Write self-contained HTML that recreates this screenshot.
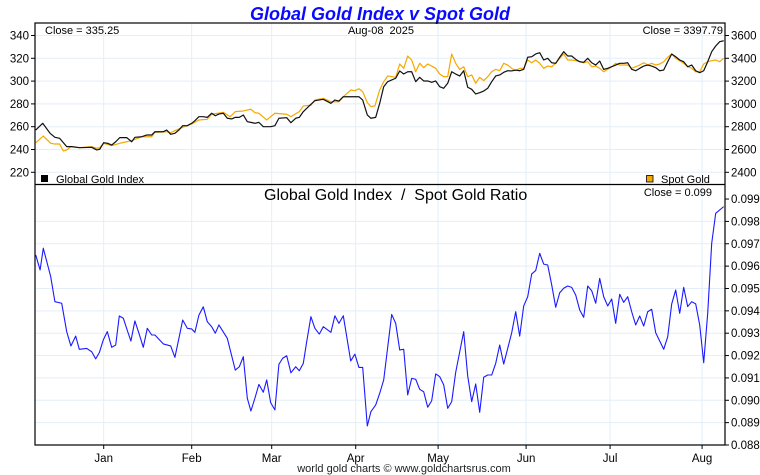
<!DOCTYPE html>
<html><head><meta charset="utf-8"><title>Global Gold Index v Spot Gold</title>
<style>
html,body{margin:0;padding:0;background:#fff;}
svg{display:block;font-family:"Liberation Sans",Arial,sans-serif;}
</style></head>
<body>
<svg id="chart" width="760" height="475" viewBox="0 0 760 475" xmlns="http://www.w3.org/2000/svg">
<rect x="0" y="0" width="760" height="475" fill="#fff"/>
<text x="380" y="20" text-anchor="middle" font-size="18" font-weight="bold" font-style="italic" fill="#0a0aff">Global Gold Index v Spot Gold</text>
<g id="grid"></g>
<g id="series"></g>
<g id="axes"></g>
<rect x="35" y="23" width="690" height="422" fill="none" stroke="#000" stroke-width="1.2"/>
<line x1="35" y1="184.5" x2="725" y2="184.5" stroke="#000" stroke-width="1.2"/>
<text x="45" y="34" font-size="11" fill="#000">Close = 335.25</text>
<text x="381" y="34" font-size="11" text-anchor="middle" fill="#000">Aug-08&#160;&#160;2025</text>
<text x="723" y="34" font-size="11" text-anchor="end" fill="#000">Close = 3397.79</text>
<rect x="41" y="175" width="7" height="7" fill="#000"/>
<text x="56" y="183" font-size="11" fill="#000">Global Gold Index</text>
<rect x="646.5" y="175.5" width="6.5" height="6.5" fill="#f5a800" stroke="#000" stroke-width="0.8"/>
<text x="661" y="183" font-size="11" fill="#000">Spot Gold</text>
<text x="264" y="200" font-size="16" fill="#000">Global Gold Index&#160;&#160;/&#160;&#160;Spot Gold Ratio</text>
<text x="712" y="196" font-size="11" text-anchor="end" fill="#000">Close = 0.099</text>
<text x="404" y="472" font-size="11" text-anchor="middle" fill="#222">world gold charts © www.goldchartsrus.com</text>
</svg>
<script>
// ---- data ----
const monthLabels = ["Jan","Feb","Mar","Apr","May","Jun","Jul","Aug"];
const monthDays = [17,39,59,80,100.6,122.6,143.6,166.6];
const leftTicks = [220,240,260,280,300,320,340];
const rightTicks = [2400,2600,2800,3000,3200,3400,3600];
const ratioTicks = [0.088,0.089,0.090,0.091,0.092,0.093,0.094,0.095,0.096,0.097,0.098,0.099];

const ggiDaysA = [0,1.75,3.6,4.8,6,7.75,9,11,14,15.25,16,17,18,19,20,21,22.75,24,24.8,26.5,27.75,29,29.8,31.9,32.75,33.75,34.8,35.8,36.75,37.9,39,39.8,40.8,41.9,42.9,44,44.9,45.8,46.9,47.9,49,49.9,50.9,51.9,52.9,53.8,54.8,55.8,56.9,58.75,59.8,60.8,62.75,63.8,65,65.9,66.9,68.8,69.8,71.9,73.8,74.8,75.8,76.9,80.8,81.75,82.9,83.8,85,86,87,88];
const ggiValsA = [257.1,263,254.2,250.7,249.8,242.5,242.5,241.6,241.9,239.6,240.2,246,245.4,243.9,246.8,250.4,250.4,246.8,250.7,251.2,252.7,252.7,255.6,255.6,257.1,253.3,254.2,257.1,260.9,260.9,263,265.3,268.8,268.8,268.2,271.8,269.6,271.1,271.8,267.4,266.8,268.2,268.2,270.3,264.4,263.8,263,263.8,260,260,260.9,267.4,267.9,263.5,267.4,268.2,273.2,279.6,282.8,284,280.5,283.4,282.5,286.3,286.3,283.4,270.3,267.4,268.2,280.5,295.1,299.5];
const ggiValsB = [302.5,308.9,306.2,308.2,308.2,299.5,303.3,300.1,300.1,298.9,
300.1,295.1,293.7,298.1,308.2,306.2,304.5,309.1,294.6,292.8,
288.7,289.8,291.3,293.7,299.5,304.5,305.4,307.7,309.1,308.9,
309.7,309.1,310.3,320.9,321.4,323.8,324.9,318.5,320,316.1,
315.6,320.9,325.8,322,322,319.1,317,316.5,320,316.1,
314.1,317.6,310.3,311.2,312.6,314.1,315.6,315.6,316.1,310.3,
309.1,311.2,313.2,314.1,313.2,311.8,309.1,309.7,317,323.8,
321.4,318.5,317,312.6,314.1,309.1,307.4,309.1,317,325.8,
330.8,334.6,335.4];

const spotDaysA = [0,1.9,3.75,4.8,6,6.9,7.75,8.8,10.9,14,15.25,16,17,19,21,22.75,24,26.5,29,29.8,32.75,33.75,34.8,36.75,39,40.8,42.9,44,46.9,48.6,49.9,51.9,53.8,54.8,55.8,57.75,59.8,62.75,63.8,65.9,66.9,68.8,69.8,71.9,73.8,75.8,76.9,78.8,79.8,80.8,81.75,82.9,83.8,84.8,86,87,88];
const spotValsA = [2660,2718,2654,2648,2648,2587,2596,2625,2616,2625,2611,2616,2654,2634,2654,2668,2677,2712,2712,2751,2756,2747,2765,2795,2824,2859,2865,2909,2926,2888,2932,2938,2953,2923,2918,2859,2918,2909,2888,2932,2982,2988,3034,3049,3019,3019,3063,3122,3116,3133,3107,3011,2976,2982,3122,3195,3245];
const spotValsB = [3233,3350,3312,3420,3385,3282,3356,3318,3350,3332,
3312,3262,3239,3239,3438,3356,3303,3326,3239,3254,
3181,3233,3204,3239,3282,3303,3291,3356,3341,3312,
3291,3312,3312,3385,3361,3385,3356,3312,3332,3326,
3356,3400,3438,3385,3385,3379,3370,3361,3370,3326,
3332,3312,3282,3303,3326,3356,3341,3341,3341,3312,
3326,3341,3361,3341,3356,3341,3350,3370,3409,3438,
3400,3379,3356,3326,3312,3282,3282,3350,3370,3379,
3385,3370,3400];
const dailyStartB = 90; // trading day of first value in *ValsB (consecutive days)

const ratioDays = [0,1.1,1.9,3.75,4.8,6.5,7.75,8.8,10,10.9,12.75,14,15,15.9,16.9,17.9,19,20,20.9,21.9,23,23.8,24.8,25.8,26.9,27.9,29,29.8,31.9,33.75,34.8,35.8,36.75,37.9,39,39.8,40.8,41.9,42.9,44,44.9,45.8,47.9,49.9,50.9,51.9,52.9,53.8,54.8,55.8,56.9,57.75,58.75,59.8,60.8,61.75,62.75,63.8,65,65.9,66.9,67.75,68.8,69.8,70.9,71.9,73.8,74.8,75.8,76.9,78.75,79.8,80.8,81.75,82.9,83.8,85,86,
87,89,90,91,92,93,94,95,96,97,98,99,100,101,102,103,104,105,107,108,109,110,111,112,113,114,115,116,117,119,120,121,122,123,124,125,126,127,128,129,130,131,132,133,134,135,136,137,138,139,140,141,142,143,144,145,146,147,148,149,150,151,152,153,154,155,157,158,159,160,161,162,163,164,165,166,167,168,169,170,172];
const ratioVals = [0.0965,0.09583,0.0968,0.09553,0.09441,0.09434,0.09307,0.09243,0.09287,0.09228,0.09232,0.09217,0.09185,0.09213,0.0927,0.09307,0.09237,0.09247,0.09377,0.09367,0.09307,0.09265,0.09355,0.093,0.09237,0.09322,0.09292,0.09292,0.09252,0.09243,0.09192,0.09277,0.09359,0.09322,0.09319,0.09304,0.09381,0.09418,0.09351,0.09329,0.093,0.09337,0.09277,0.09135,0.0915,0.09195,0.09009,0.08952,0.09009,0.09071,0.09036,0.09091,0.08989,0.08957,0.09161,0.09188,0.09199,0.09123,0.0915,0.09132,0.09165,0.09262,0.09374,0.09322,0.09296,0.09329,0.09304,0.09378,0.09344,0.09378,0.09176,0.09206,0.09147,0.09147,0.08885,0.08949,0.08979,0.09031,
0.09091,0.09384,0.09344,0.09225,0.09228,0.09024,0.09098,0.09094,0.09049,0.09038,
0.08969,0.08998,0.09118,0.09106,0.09069,0.08964,0.08994,0.09125,0.09307,0.09109,
0.08994,0.09073,0.08946,0.09103,0.09113,0.09113,0.09165,0.09247,0.09162,0.09302,
0.09396,0.09287,0.09422,0.09463,0.09565,0.0958,0.09657,0.09609,0.09605,0.09516,
0.09416,0.09481,0.09501,0.09511,0.09505,0.09471,0.09404,0.09371,0.09511,0.0949,
0.09434,0.09545,0.09463,0.09422,0.09453,0.09344,0.09474,0.09438,0.09463,0.09396,
0.09337,0.09377,0.09332,0.09396,0.09407,0.09302,0.09228,0.09284,0.09431,0.09493,
0.09389,0.09505,0.09419,0.09441,0.09431,0.09337,0.09168,0.09389,0.09702,0.09836,
0.09866];

// ---- scales ----
const X0 = 35.7, X1 = 723.7, DMAX = 172;
const xS = d => X0 + (X1 - X0) * d / DMAX;
const yL = v => 35.5 + (340 - v) * 1.14;              // GGI left axis
const yR = p => 35.5 + (3600 - p) * 0.114;            // spot right axis
const yB = r => 445 - (r - 0.088) / 0.001 * 22.36;    // ratio axis

const NS = "http://www.w3.org/2000/svg";
function mk(tag, attrs, parent) {
  const el = document.createElementNS(NS, tag);
  for (const k in attrs) el.setAttribute(k, attrs[k]);
  parent.appendChild(el);
  return el;
}
const grid = document.getElementById('grid');
const axes = document.getElementById('axes');
const series = document.getElementById('series');
const GC = "#e3eef8";

leftTicks.forEach(v => {
  const y = yL(v);
  const g = mk('line', {x1:35, x2:725, y1:y, y2:y, stroke:GC, 'stroke-width':1}, grid);
  
  
  const t = mk('line', {x1:31, x2:35, y1:y, y2:y, stroke:'#000', 'stroke-width':1}, axes);
  
  
  const lb = mk('text', {x:29, y:y+4, 'font-size':11.5, 'text-anchor':'end', fill:'#000'}, axes);
  lb.textContent = v;
  
  
});
rightTicks.forEach(p => {
  const y = yR(p);
  const t = mk('line', {x1:725, x2:729, y1:y, y2:y, stroke:'#000', 'stroke-width':1}, axes);
  
  
  const lb = mk('text', {x:731, y:y+4, 'font-size':11.5, fill:'#000'}, axes);
  lb.textContent = p;
  
  
});
ratioTicks.forEach(r => {
  const y = yB(r);
  if (r > 0.0885 && r < 0.0985) {
    const g = mk('line', {x1:35, x2:725, y1:y, y2:y, stroke:GC, 'stroke-width':1}, grid);
    
    
  }
  const t = mk('line', {x1:725, x2:729, y1:y, y2:y, stroke:'#000', 'stroke-width':1}, axes);
  
  
  const lb = mk('text', {x:731, y:y+4, 'font-size':11.5, fill:'#000'}, axes);
  lb.textContent = r.toFixed(3);
  
  
});
monthDays.forEach((d, i) => {
  const x = xS(d);
  const g = mk('line', {x1:x, x2:x, y1:23, y2:445, stroke:GC, 'stroke-width':1}, grid);
  
  
  const t = mk('line', {x1:x, x2:x, y1:445, y2:449, stroke:'#000', 'stroke-width':1}, axes);
  
  
  const lb = mk('text', {x:x, y:462, 'font-size':11.5, 'text-anchor':'middle', fill:'#000'}, axes);
  lb.textContent = monthLabels[i];
  
  
});

function pathFrom(days, vals, yf) {
  return days.map((d, i) => (i ? 'L' : 'M') + xS(d).toFixed(2) + ',' + yf(vals[i]).toFixed(2)).join('');
}
function withDaily(daysA, valsA, valsB) {
  const days = daysA.slice();
  valsB.forEach((v, i) => days.push(dailyStartB + i));
  return [days, valsA.concat(valsB)];
}
const [spotDays, spotVals] = withDaily(spotDaysA, spotValsA, spotValsB);
const [ggiDays, ggiVals] = withDaily(ggiDaysA, ggiValsA, ggiValsB);

const sp = mk('path', {d:pathFrom(spotDays, spotVals, yR), fill:'none', stroke:'#f5a800', 'stroke-width':1.2, 'stroke-linejoin':'round'}, series);


const gg = mk('path', {d:pathFrom(ggiDays, ggiVals, yL), fill:'none', stroke:'#111', 'stroke-width':1.2, 'stroke-linejoin':'round'}, series);


const rl = mk('path', {d:pathFrom(ratioDays, ratioVals, yB), fill:'none', stroke:'#1a1aff', 'stroke-width':1.1, 'stroke-linejoin':'round'}, series);


</script>
</body></html>
